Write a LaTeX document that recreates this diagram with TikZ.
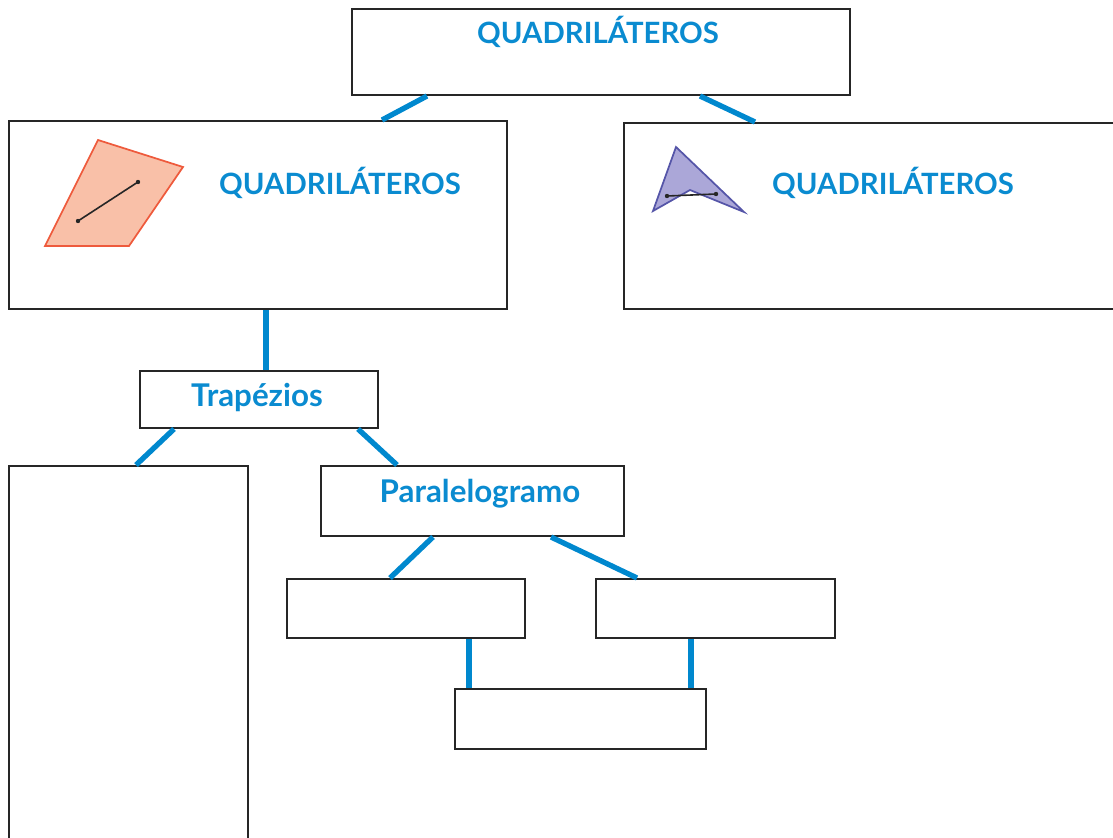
\documentclass[tikz,border=0pt]{standalone}
\usepackage{fontspec}
\setmainfont{Lato}
\usetikzlibrary{calc}
\definecolor{tblue}{HTML}{0A8BD0}
\definecolor{lblue}{HTML}{0088CE}
\definecolor{ofill}{HTML}{F9C0A8}
\definecolor{oline}{HTML}{EE5A3C}
\definecolor{pfill}{HTML}{ABA7D8}
\definecolor{pline}{HTML}{5555A8}
\tikzset{
  box/.style={draw=black!85,line width=1.7pt},
  link/.style={draw=lblue,line width=4pt},
  lbl/.style={text=tblue,font=\bfseries\fontsize{22}{25}\selectfont,inner sep=0pt},
  lbls/.style={text=tblue,font=\bfseries\fontsize{23.5}{26}\selectfont,inner sep=0pt},
}
\begin{document}
\begin{tikzpicture}[x=0.75pt,y=-0.75pt]
\useasboundingbox (0,0) rectangle (1113,838);
\begin{scope}
\clip (0,0) rectangle (1113,838);
% boxes
\draw[box] (352,9) rectangle (850,95);
\node[lbl] (toplbl) at (598,32) {QUADRILÁTEROS};
\draw[box] (9,121) rectangle (507,309);
\node[lbl] (llbl) at (340,183) {QUADRILÁTEROS};
\draw[box] (624,123) rectangle (1130,309);
\node[lbl] (rlbl) at (893,183) {QUADRILÁTEROS};
\draw[box] (140,371) rectangle (378,428);
\node[lbls] (trap) at (257,398) {Trapézios};
\draw[box] (9,466) rectangle (248,850);
\draw[box] (321,466) rectangle (624,536);
\node[lbls] (para) at (480,494) {Paralelogramo};
\draw[box] (287,579) rectangle (525,638);
\draw[box] (596,579) rectangle (835,638);
\draw[box] (455,689) rectangle (706,749);
% connectors
\coordinate (c1a) at (427,96); \coordinate (c1b) at (382,120);
\coordinate (c2a) at (700,96); \coordinate (c2b) at (755,122);
\coordinate (c3a) at (266,310); \coordinate (c3b) at (266,370);
\coordinate (c4a) at (174,429); \coordinate (c4b) at (136,465);
\coordinate (c5a) at (358,429); \coordinate (c5b) at (397,465);
\coordinate (c6a) at (433,537); \coordinate (c6b) at (390,578);
\coordinate (c7a) at (551,537); \coordinate (c7b) at (637,578);
\coordinate (c8a) at (469,639); \coordinate (c8b) at (469,688);
\coordinate (c9a) at (691,639); \coordinate (c9b) at (691,688);
\foreach \i in {1,...,9}{\draw[link] (c\i a) -- (c\i b);}
% orange quadrilateral
\draw[fill=ofill,draw=oline,line width=1.3pt,line join=miter] (98,140) -- (183,167) -- (129,246) -- (45,246) -- cycle;
\coordinate (oa) at (78,221); \coordinate (ob) at (138,182);
\draw[black!85,line width=1.2pt] (oa) -- (ob);
\fill[black!85] (oa) circle (2.2) (ob) circle (2.2);
% purple quadrilateral
\draw[fill=pfill,draw=pline,line width=1.3pt] (676,147) -- (744,212) -- (690,190) -- (653,211) -- cycle;
\coordinate (pa) at (667,196); \coordinate (pb) at (716,194);
\draw[black!85,line width=1.2pt] (pa) -- (pb);
\fill[black!85] (pa) circle (2.2) (pb) circle (2.2);
\end{scope}
\end{tikzpicture}
\end{document}
